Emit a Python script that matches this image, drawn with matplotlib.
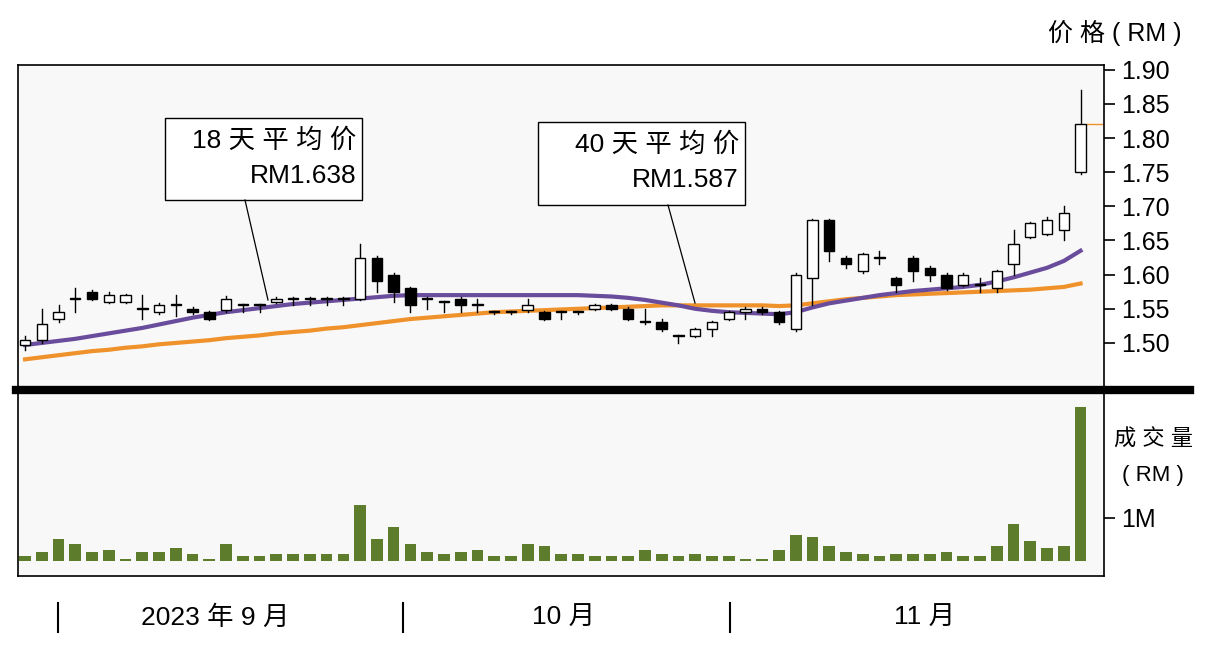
import matplotlib
matplotlib.use("Agg")
import matplotlib.pyplot as plt
from matplotlib.patches import Rectangle
import numpy as np

plt.rcParams['font.family'] = ['Liberation Sans', 'Noto Sans CJK SC', 'DejaVu Sans']

opens  = [1.497,1.505,1.535,1.565,1.575,1.560,1.560,1.550,1.545,1.555,1.550,1.545,1.548,1.555,1.555,1.560,1.565,1.565,1.565,1.565,
          1.565,1.625,1.600,1.580,1.565,1.560,1.565,1.555,1.545,1.545,1.548,1.545,1.545,1.545,1.550,1.555,1.550,1.530,1.530,1.510,
          1.510,1.520,1.535,1.545,1.550,1.545,1.520,1.595,1.680,1.625,1.605,1.625,1.595,1.625,1.610,1.600,1.585,1.585,1.580,1.615,
          1.655,1.660,1.665,1.750]
closes = [1.505,1.527,1.545,1.565,1.565,1.570,1.570,1.550,1.555,1.555,1.545,1.535,1.565,1.555,1.555,1.565,1.565,1.565,1.565,1.565,
          1.625,1.590,1.575,1.555,1.565,1.560,1.555,1.555,1.545,1.545,1.555,1.535,1.545,1.545,1.555,1.550,1.535,1.530,1.520,1.510,
          1.520,1.530,1.545,1.550,1.545,1.530,1.600,1.680,1.635,1.615,1.630,1.625,1.585,1.605,1.600,1.580,1.600,1.585,1.605,1.645,
          1.675,1.680,1.690,1.820]
highs  = [1.510,1.550,1.555,1.580,1.578,1.575,1.572,1.570,1.558,1.570,1.552,1.547,1.568,1.557,1.557,1.567,1.567,1.567,1.567,1.567,
          1.645,1.627,1.602,1.582,1.567,1.562,1.567,1.565,1.547,1.547,1.565,1.547,1.547,1.547,1.557,1.557,1.552,1.550,1.535,1.512,
          1.522,1.532,1.547,1.552,1.552,1.547,1.602,1.682,1.682,1.627,1.632,1.635,1.597,1.627,1.612,1.602,1.602,1.595,1.607,1.665,
          1.677,1.685,1.700,1.870]
lows   = [1.490,1.500,1.530,1.545,1.563,1.558,1.558,1.535,1.543,1.540,1.543,1.533,1.546,1.545,1.545,1.558,1.555,1.555,1.555,1.555,
          1.563,1.575,1.560,1.545,1.550,1.545,1.545,1.545,1.543,1.543,1.546,1.533,1.535,1.543,1.548,1.548,1.533,1.528,1.518,1.500,
          1.508,1.510,1.533,1.535,1.543,1.528,1.518,1.555,1.620,1.610,1.603,1.615,1.575,1.590,1.590,1.578,1.583,1.575,1.575,1.600,
          1.653,1.658,1.650,1.748]
ma18 = [1.497,1.500,1.503,1.506,1.510,1.514,1.518,1.522,1.527,1.532,1.537,1.541,1.545,1.548,1.551,1.554,1.557,1.559,1.561,1.563,
        1.565,1.567,1.569,1.570,1.570,1.570,1.570,1.570,1.570,1.570,1.570,1.570,1.570,1.570,1.569,1.568,1.566,1.563,1.559,1.555,
        1.550,1.547,1.545,1.544,1.543,1.542,1.545,1.552,1.558,1.562,1.566,1.570,1.573,1.576,1.578,1.580,1.582,1.585,1.590,1.596,
        1.603,1.610,1.620,1.635]
ma40 = [1.476,1.479,1.482,1.485,1.488,1.490,1.493,1.495,1.498,1.500,1.502,1.504,1.507,1.509,1.511,1.514,1.516,1.518,1.521,1.523,
        1.526,1.529,1.532,1.535,1.537,1.539,1.541,1.543,1.545,1.546,1.547,1.548,1.549,1.550,1.551,1.552,1.553,1.554,1.555,1.555,
        1.555,1.555,1.555,1.555,1.555,1.554,1.555,1.558,1.561,1.564,1.566,1.568,1.570,1.571,1.572,1.573,1.574,1.575,1.576,1.577,
        1.578,1.580,1.582,1.587]
volume = [0.10,0.20,0.50,0.40,0.20,0.25,0.05,0.20,0.20,0.30,0.15,0.05,0.40,0.10,0.10,0.15,0.15,0.15,0.15,0.15,
          1.30,0.50,0.80,0.40,0.20,0.15,0.20,0.25,0.10,0.10,0.40,0.35,0.15,0.15,0.10,0.12,0.12,0.25,0.15,0.12,
          0.15,0.10,0.10,0.05,0.05,0.25,0.60,0.55,0.35,0.20,0.15,0.10,0.15,0.15,0.15,0.20,0.10,0.10,0.35,0.85,
          0.45,0.30,0.35,3.60]
price_ticks = [1.50,1.55,1.60,1.65,1.70,1.75,1.80,1.85,1.90]
month_labels = ["2023 年 9 月", "10 月", "11 月"]

W, H = 1216, 650
fig = plt.figure(figsize=(W/100, H/100), dpi=100)
L, R = 18/W, 1104/W
axp = fig.add_axes([L, 1-388/H, R-L, (388-65)/H])
axv = fig.add_axes([L, 1-576/H, R-L, (576-393)/H], sharex=axp)
n = len(opens)
x = np.arange(n)
for ax in (axp, axv):
    ax.set_facecolor('#f8f8f8')
    ax.yaxis.tick_right()
    ax.tick_params(axis='y', direction='out', length=8, width=1.2, labelsize=18, pad=4)
    ax.tick_params(axis='x', bottom=False, labelbottom=False)
    for s in ax.spines.values():
        s.set_linewidth(1.2)

w = 0.62
for i in range(n):
    o, c, h, l = opens[i], closes[i], highs[i], lows[i]
    axp.plot([i, i], [l, h], color='black', lw=1, zorder=2)
    lo, hi = min(o, c), max(o, c)
    ht = max(hi-lo, 0.0015)
    fc = 'white' if c >= o else 'black'
    axp.add_patch(Rectangle((i-w/2, lo), w, ht, facecolor=fc, edgecolor='black', lw=1, zorder=3))
axp.plot(x, ma40, color='#f0922b', lw=3, zorder=1)
axp.plot(x, ma18, color='#6a4c9c', lw=3, zorder=1)
axp.plot([n-0.6, n+1], [closes[-1]]*2, color='#f0922b', lw=1)
axp.set_xlim(-0.42, 64.4)
axp.set_ylim(1.434, 1.907)
axp.set_yticks(price_ticks)
axp.set_yticklabels([f"{t:.2f}" for t in price_ticks])

axv.bar(x, volume, width=0.7, color='#5e7d2c', zorder=2)
axv.set_ylim(-0.36, 3.93)
axv.set_yticks([1.0])
axv.set_yticklabels(["1M"])

fig.lines.append(plt.Line2D([16/W, 1190/W], [1-390/H, 1-390/H], transform=fig.transFigure, color='black', lw=6))

fig.text(1182/W, 1-33/H, "价 格 ( RM )", ha='right', va='center', fontsize=18)
fig.text(1153/W, 1-440/H, "成 交 量", ha='center', va='center', fontsize=16)
fig.text(1153/W, 1-475/H, "( RM )", ha='center', va='center', fontsize=16)

def box(x0, y0, x1, y1, t1, t2, lx0, ly0, lx1, ly1):
    fig.patches.append(Rectangle((x0/W, 1-y1/H), (x1-x0)/W, (y1-y0)/H, transform=fig.transFigure,
                                 facecolor='white', edgecolor='black', lw=1, zorder=5))
    fig.text((x1-6)/W, 1-(y0+22)/H, t1, ha='right', va='center', fontsize=19, zorder=6)
    fig.text((x1-6)/W, 1-(y0+58)/H, t2, ha='right', va='center', fontsize=19, zorder=6)
    fig.lines.append(plt.Line2D([lx0/W, lx1/W], [1-ly0/H, 1-ly1/H], transform=fig.transFigure,
                                color='black', lw=0.9, zorder=6))

box(165, 118, 362, 200, "18 天 平 均 价", "RM1.638", 245, 200, 268, 300)
box(538, 122, 745, 205, "40 天 平 均 价", "RM1.587", 668, 205, 695, 303)

for sx in (58, 403, 730):
    fig.lines.append(plt.Line2D([sx/W, sx/W], [1-603/H, 1-632/H], transform=fig.transFigure, color='black', lw=1.5))
for lab, lx in zip(month_labels, (215, 563, 925)):
    fig.text(lx/W, 1-618/H, lab, ha='center', va='center', fontsize=19)

fig.savefig("out.png", dpi=100)
